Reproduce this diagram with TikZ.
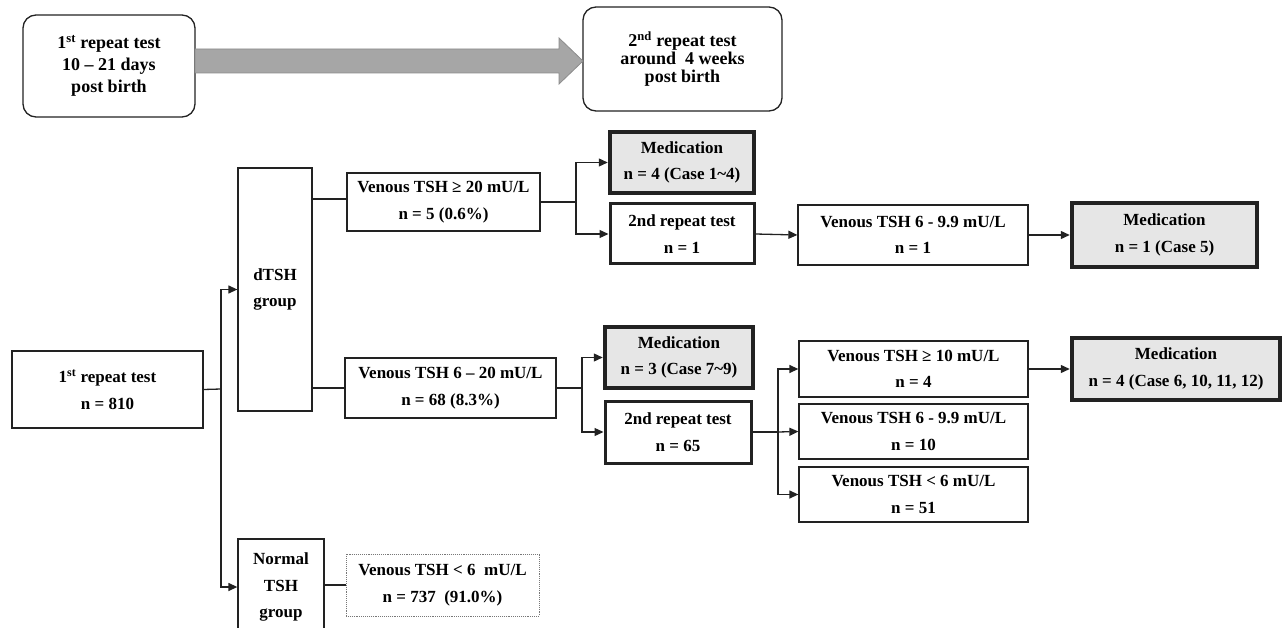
\documentclass[tikz,border=0pt]{standalone}
\usepackage{fontspec}
\setmainfont{Liberation Serif}
\usetikzlibrary{arrows.meta,calc}
\definecolor{linec}{HTML}{222222}
\definecolor{medgray}{HTML}{E6E6E6}
\definecolor{arrowgray}{HTML}{A6A6A6}
\definecolor{arrowedge}{HTML}{8C8C8C}
\definecolor{dotgray}{HTML}{777777}
\newcommand{\mainf}{\fontsize{17}{26.5}\selectfont\bfseries}
\begin{document}
\begin{tikzpicture}[x=1pt,y=-1pt,
  sz/.style 2 args={minimum width=#1, minimum height=#2},
  box/.style={draw=linec, line width=1.3pt, fill=white, inner sep=0pt, align=center, font=\mainf},
  topbox/.style={box, rounded corners=13pt},
  medbox/.style={box, line width=4.5pt, fill=medgray},
  repbox/.style={box, line width=3pt},
  dotbox/.style={box, draw=dotgray, line width=0.9pt, densely dotted},
  conn/.style={draw=linec, line width=1.3pt},
  thickconn/.style={draw=linec, line width=2pt},
  arr/.style={conn, -{Triangle[length=9pt,width=8pt]}}
]
\useasboundingbox (0,0) rectangle (1285,628);

% top timeline
\node[topbox, sz={172pt}{102pt}, font=\fontsize{18}{22}\selectfont\bfseries] (topA) at (109,66)
  {1\textsuperscript{st} repeat test\\10 -- 21 days\\post birth};
\node[topbox, sz={199pt}{104pt}, font=\fontsize{18}{18}\selectfont\bfseries] (topB) at (682.5,59)
  {2\textsuperscript{nd} repeat test\\around\ \ 4 weeks\\post birth};
\filldraw[fill=arrowgray, draw=arrowedge, line width=0.8pt]
  (195,49) -- (559,49) -- (559,38) -- (583,61) -- (559,84) -- (559,73) -- (195,73) -- cycle;

% left part
\node[box, sz={191pt}{77pt}] (n810) at (107.5,389.5) {1\textsuperscript{st} repeat test\\n = 810};
\node[box, sz={74pt}{243pt}] (dtsh) at (275,289.5) {dTSH\\group};
\node[box, sz={86pt}{96pt}] (normal) at (281,587) {Normal\\TSH\\group};

\node[box, sz={193pt}{58pt}] (v20) at (443.5,202) {Venous TSH ≥ 20 mU/L\\n = 5 (0.6\%)};
\node[box, sz={211pt}{60pt}] (v620) at (450.5,388) {Venous TSH 6 -- 20 mU/L\\n = 68 (8.3\%)};
\node[dotbox, sz={193pt}{62pt}] (vnorm) at (442.5,585) {Venous TSH < 6\ \ mU/L\\n = 737\ \ (91.0\%)};

% upper branch
\node[medbox, sz={144pt}{61pt}] (med1) at (682,162.5) {Medication\\n = 4 (Case 1\textasciitilde 4)};
\node[repbox, sz={144pt}{60pt}] (rep1) at (682,234) {2nd repeat test\\n = 1};
\node[box, sz={230pt}{60pt}] (v99a) at (913,235) {Venous TSH 6 - 9.9 mU/L\\n = 1};
\node[medbox, sz={185pt}{64pt}] (med5) at (1164.5,235) {Medication\\n = 1 (Case 5)};

% lower branch
\node[medbox, sz={148pt}{61pt}] (med2) at (679,357.5) {Medication\\n = 3 (Case 7\textasciitilde 9)};
\node[repbox, sz={146pt}{62pt}] (rep65) at (678,432) {2nd repeat test\\n = 65};
\node[box, sz={229pt}{56pt}] (v10) at (913.5,369) {Venous TSH ≥ 10 mU/L\\n = 4};
\node[box, sz={229pt}{55pt}] (v99b) at (913.5,431.5) {Venous TSH 6 - 9.9 mU/L\\n = 10};
\node[box, sz={229pt}{55pt}] (v6) at (913.5,494.5) {Venous TSH < 6 mU/L\\n = 51};
\node[medbox, sz={208pt}{62pt}] (med6) at (1176,369) {Medication\\n = 4 (Case 6, 10, 11, 12)};

% junctions
\coordinate (j1) at (221,389);
\coordinate (j2) at (576,202);
\coordinate (j3) at (582,388);
\coordinate (j4) at (778,432);

% connectors
\draw[conn] (n810.east) -- (j1);
\draw[arr] (j1) |- (dtsh.west);
\draw[arr] (j1) |- (normal.west);
\draw[thickconn] ([yshift=3pt]v20.west -| dtsh.east) -- ([yshift=3pt]v20.west);
\draw[thickconn] (v620.west -| dtsh.east) -- (v620.west);
\draw[thickconn] (vnorm.west -| normal.east) -- (vnorm.west);

\draw[conn] (v20.east) -- (j2);
\draw[arr] (j2) |- (med1.west);
\draw[arr] (j2) |- (rep1.west);
\draw[arr] (rep1.east) -- (v99a.west);
\draw[arr] (v99a.east) -- (med5.west);

\draw[conn] (v620.east) -- (j3);
\draw[arr] (j3) |- (med2.west);
\draw[arr] (j3) |- (rep65.west);
\draw[conn] (rep65.east) -- (j4);
\draw[arr] (j4) |- (v10.west);
\draw[arr] (j4) -- (v99b.west);
\draw[arr] (j4) |- (v6.west);
\draw[arr] (v10.east) -- (med6.west);
\end{tikzpicture}
\end{document}
